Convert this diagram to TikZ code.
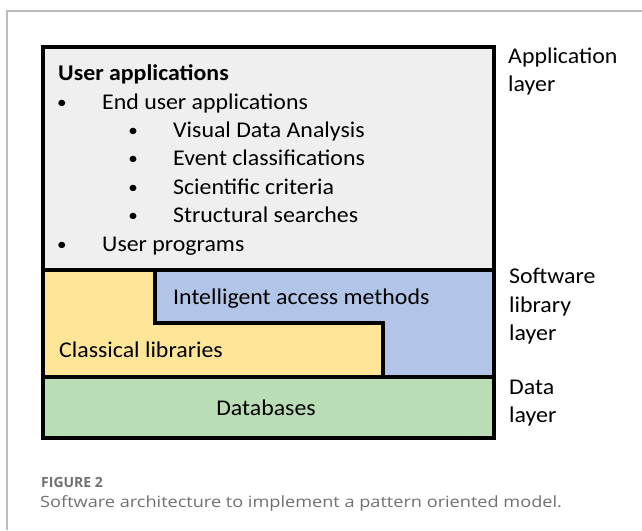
\documentclass[tikz,border=0pt]{standalone}
\usepackage{fontspec}
\setmainfont{Carlito}[FakeStretch=1.06]
\newfontfamily\capfont{Open Sans}[FakeStretch=1.17]
\newfontfamily\figfont{Open Sans}[FakeStretch=1.0]
\definecolor{appgrey}{HTML}{EFEFEF}
\definecolor{libyellow}{HTML}{FFE597}
\definecolor{libblue}{HTML}{B1C5E8}
\definecolor{dbgreen}{HTML}{B9DDB4}
\definecolor{framegrey}{HTML}{BDBDBD}
\definecolor{captiongrey}{HTML}{707070}
\begin{document}
\begin{tikzpicture}[x=1pt,y=-1pt,
  txt/.style={anchor=base west,inner sep=0pt,font=\fontsize{22.5}{27}\selectfont},
  bul/.style={anchor=base,inner sep=0pt,font=\fontsize{18}{22}\selectfont},
  sidelbl/.style={anchor=base west,inner sep=0pt,font=\fontsize{22.5}{27}\selectfont},
  heavy/.style={line width=4pt,line join=miter}]
\useasboundingbox (0,0) rectangle (642,530);
\draw[framegrey,line width=1.2pt] (7,530) -- (7,11) -- (642,11);
% fills
\fill[appgrey] (43,47) rectangle (494,270);
\fill[libyellow] (43,270) -- (155,270) -- (155,323) -- (383,323) -- (383,377) -- (43,377) -- cycle;
\fill[libblue] (155,270) -- (494,270) -- (494,377) -- (383,377) -- (383,323) -- (155,323) -- cycle;
\fill[dbgreen] (43,377) rectangle (494,438);
% lines
\draw[heavy] (43,47) rectangle (494,438);
\draw[heavy] (43,270) -- (494,270);
\draw[heavy] (43,377) -- (494,377);
\draw[heavy] (155,270) -- (155,323) -- (383,323) -- (383,377);
% application text
\node[txt,font=\fontsize{22.5}{27}\selectfont\bfseries] (ua) at (58,80) {User applications};
\node[bul] (b1) at (62,108) {•};
\node[txt] (eua) at (102,109) {End user applications};
\node[bul] (b2) at (133,136) {•};
\node[txt] (vda) at (173,137) {Visual Data Analysis};
\node[bul] (b3) at (133,164) {•};
\node[txt] (ec) at (173,165) {Event classifications};
\node[bul] (b4) at (133,193) {•};
\node[txt] (sc) at (173,194) {Scientific criteria};
\node[bul] (b5) at (133,221) {•};
\node[txt] (ss) at (173,222) {Structural searches};
\node[bul] (b6) at (62,250) {•};
\node[txt] (up) at (102,251) {User programs};
% library text
\node[txt] (iam) at (173,304) {Intelligent access methods};
\node[txt] (cl) at (59,357) {Classical libraries};
\node[anchor=base,inner sep=0pt,font=\fontsize{22.5}{27}\selectfont] (db) at (266,415) {Databases};
% side labels
\node[sidelbl] (al1) at (508,63) {Application};
\node[sidelbl] (al2) at (508,91) {layer};
\node[sidelbl] (sl1) at (509,283) {Software};
\node[sidelbl] (sl2) at (509,312) {library};
\node[sidelbl] (sl3) at (509,340) {layer};
\node[sidelbl] (dl1) at (509,394) {Data};
\node[sidelbl] (dl2) at (509,422) {layer};
% caption
\node[anchor=base west,inner sep=0pt,text=captiongrey,font=\figfont\fontsize{14}{17}\selectfont\bfseries] (fig) at (41,487) {FIGURE 2};
\node[anchor=base west,inner sep=0pt,text=captiongrey,font=\capfont\fontsize{15.5}{19}\selectfont] (cap) at (40,507) {Software architecture to implement a pattern oriented model.};
\end{tikzpicture}
\end{document}
